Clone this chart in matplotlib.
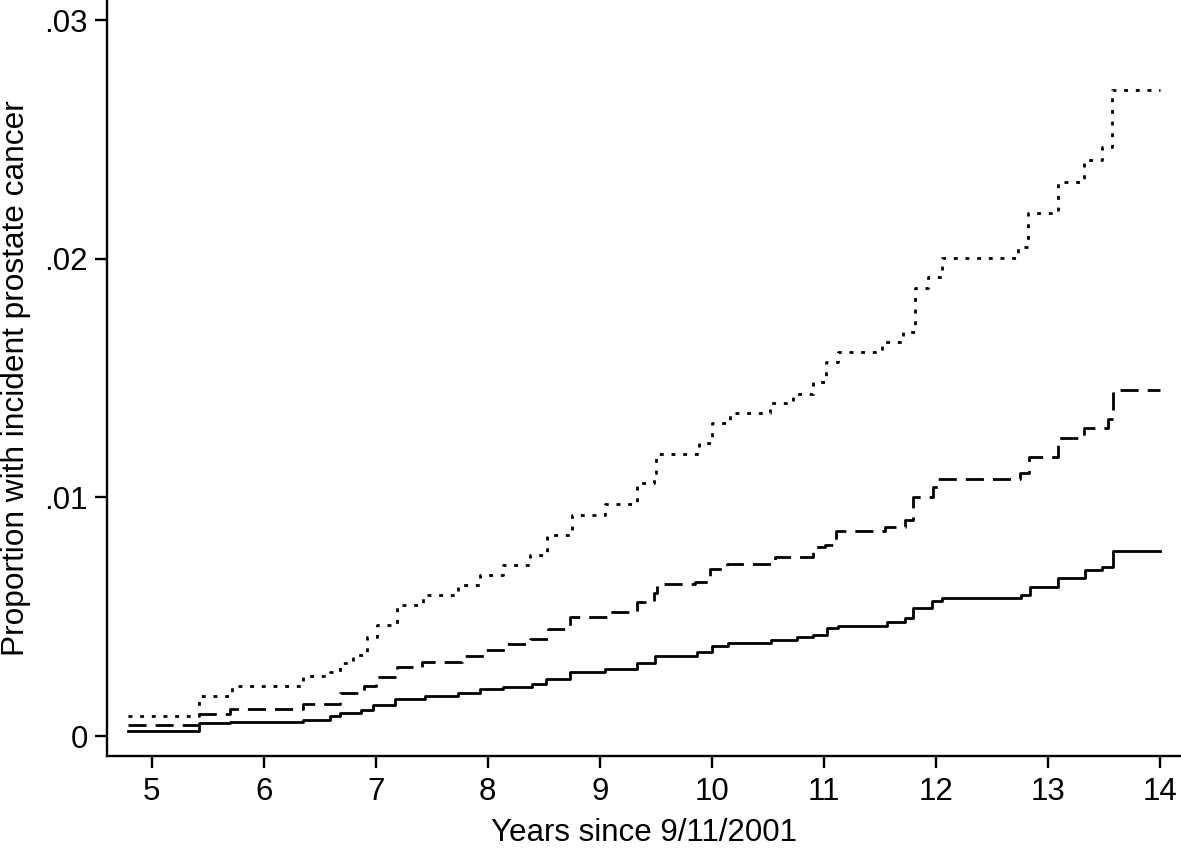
import matplotlib
matplotlib.use('Agg')
import matplotlib.pyplot as plt
from matplotlib.ticker import FixedLocator, FuncFormatter

plt.rcParams['font.family'] = ['Liberation Sans', 'DejaVu Sans']
plt.rcParams['lines.scale_dashes'] = False

# Step curves (years since 9/11/2001, cumulative proportion)
solid_t = [4.79, 5.42, 5.70, 6.35, 6.59, 6.68, 6.87, 6.98, 7.17, 7.44, 7.73, 7.93,
           8.14, 8.39, 8.52, 8.73, 9.05, 9.33, 9.49, 9.87, 10.0, 10.14, 10.53, 10.76,
           10.90, 11.03, 11.12, 11.56, 11.72, 11.79, 11.96, 12.05, 12.76, 12.84, 13.09,
           13.33, 13.48, 13.58, 14.0]
solid_v = [0.0002, 0.00053, 0.0006, 0.00067, 0.00085, 0.00095, 0.00109, 0.0013,
           0.00155, 0.00169, 0.00181, 0.00196, 0.00207, 0.00217, 0.00239, 0.00267,
           0.00279, 0.00305, 0.00336, 0.0035, 0.00377, 0.00388, 0.00402, 0.00413,
           0.00423, 0.00451, 0.00462, 0.00476, 0.00493, 0.00535, 0.00567, 0.00577,
           0.00591, 0.00626, 0.00661, 0.00695, 0.00709, 0.00776, 0.00776]

dashed_t = [4.79, 5.42, 5.70, 6.35, 6.68, 6.90, 7.0, 7.19, 7.41, 7.77, 7.97, 8.17,
            8.38, 8.54, 8.73, 9.09, 9.33, 9.48, 9.51, 9.85, 9.98, 10.13, 10.56, 10.90,
            11.01, 11.11, 11.54, 11.72, 11.79, 11.97, 12.02, 12.75, 12.83, 13.09,
            13.32, 13.53, 13.58, 14.0]
dashed_v = [0.00046, 0.00092, 0.00112, 0.00134, 0.00179, 0.0021, 0.00248, 0.0029,
            0.00311, 0.00335, 0.0036, 0.00384, 0.00405, 0.00448, 0.00497, 0.00521,
            0.00563, 0.00598, 0.00636, 0.00646, 0.007, 0.0072, 0.00749, 0.00793,
            0.008, 0.0086, 0.00877, 0.00905, 0.01003, 0.01044, 0.01075, 0.011,
            0.0117, 0.01247, 0.01289, 0.0133, 0.0145, 0.0145]

dotted_t = [4.79, 5.42, 5.72, 6.35, 6.59, 6.68, 6.80, 6.92, 7.01, 7.19, 7.42, 7.73,
            7.93, 8.14, 8.38, 8.53, 8.75, 9.05, 9.33, 9.48, 9.50, 9.88, 10.0, 10.16,
            10.52, 10.72, 10.90, 11.02, 11.12, 11.52, 11.70, 11.81, 11.93, 12.05,
            12.73, 12.82, 13.09, 13.32, 13.48, 13.57, 14.0]
dotted_v = [0.00085, 0.00169, 0.00211, 0.00251, 0.0027, 0.00305, 0.0034, 0.00416,
            0.00465, 0.00549, 0.00591, 0.00633, 0.00674, 0.00716, 0.00758, 0.00842,
            0.00926, 0.00972, 0.0106, 0.011, 0.01181, 0.01226, 0.0131, 0.01354,
            0.01394, 0.01433, 0.01483, 0.01568, 0.0161, 0.01652, 0.01694, 0.01876,
            0.01924, 0.02005, 0.0205, 0.0219, 0.02322, 0.02413, 0.02469, 0.02706,
            0.02706]

x_ticks = [5, 6, 7, 8, 9, 10, 11, 12, 13, 14]
y_ticks = [0, 0.01, 0.02, 0.03]
y_tick_labels = ['0', '.01', '.02', '.03']

fig = plt.figure(figsize=(11.81, 8.49), dpi=100)
ax = fig.add_axes([107 / 1181, 1 - 755.7 / 849, 1 - 107 / 1181, 755.7 / 849])

lw = 2.0
ax.plot(solid_t, solid_v, drawstyle='steps-post', color='black', lw=lw)
ax.plot(dashed_t, dashed_v, drawstyle='steps-post', color='black', lw=lw,
        dashes=(13, 6.5))
ax.plot(dotted_t, dotted_v, drawstyle='steps-post', color='black', lw=lw,
        dashes=(2.8, 5.6))

ax.set_xlim(4.603, 14.184)
ax.set_ylim(-0.000825, 0.03084)

ax.xaxis.set_major_locator(FixedLocator(x_ticks))
ax.yaxis.set_major_locator(FixedLocator(y_ticks))
ax.yaxis.set_major_formatter(FuncFormatter(lambda v, p: y_tick_labels[y_ticks.index(round(v, 2))]))

for side in ['top', 'right']:
    ax.spines[side].set_visible(False)
for side in ['left', 'bottom']:
    ax.spines[side].set_linewidth(1.7)

ax.tick_params(axis='both', which='major', length=8.6, width=1.7, labelsize=22.5,
               direction='out')
ax.tick_params(axis='x', pad=7)
ax.tick_params(axis='y', pad=5)

ax.set_xlabel('Years since 9/11/2001', fontsize=22.5, labelpad=8)
ax.set_ylabel('Proportion with incident prostate cancer', fontsize=22.8, labelpad=10)

fig.savefig('out.png', dpi=100)
